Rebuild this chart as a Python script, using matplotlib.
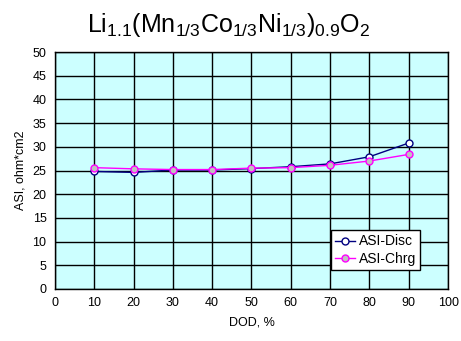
import numpy as np
import matplotlib
matplotlib.use("Agg")
from matplotlib import pyplot as plt

plt.rcParams['font.family'] = ['Liberation Sans', 'DejaVu Sans']
plt.rcParams['mathtext.fontset'] = 'custom'
plt.rcParams['mathtext.rm'] = 'Liberation Sans'
plt.rcParams['mathtext.it'] = 'Liberation Sans'

# data
dod = [10, 20, 30, 40, 50, 60, 70, 80, 90]
asi_disc = [24.8, 24.6, 25.1, 25.1, 25.4, 25.8, 26.4, 27.9, 30.8]
asi_chrg = [25.6, 25.35, 25.2, 25.2, 25.5, 25.6, 26.1, 27.0, 28.4]

fig = plt.figure(figsize=(4.61, 3.41), dpi=100)
ax = fig.add_axes((0.119, 0.1525, 0.853, 0.695))
ax.set_facecolor('#CCFFFF')

ax.plot(dod, asi_disc, color='#000080', lw=1, marker='o', ms=5,
        mfc='white', mec='#000080', mew=1, label='ASI-Disc', zorder=3)
ax.plot(dod, asi_chrg, color='#FF00FF', lw=1, marker='o', ms=5,
        mfc='#C0C0C0', mec='#FF00FF', mew=1, label='ASI-Chrg', zorder=3)

ax.set_xlim(0, 100)
ax.set_ylim(0, 50)
ax.set_xticks(np.arange(0, 101, 10))
ax.set_yticks(np.arange(0, 51, 5))
ax.grid(True, color='black', lw=1)
ax.set_axisbelow(True)
for s in ax.spines.values():
    s.set_color('black')
    s.set_linewidth(1)
ax.tick_params(labelsize=9, length=0, pad=6)

ax.set_xlabel('DOD, %', fontsize=9, labelpad=5)
ax.set_ylabel('ASI, ohm*cm2', fontsize=9)

# title with chemical subscripts
fig.text(0.496, 0.906,
         r'$\mathrm{Li_{1.1}(Mn_{1/3}Co_{1/3}Ni_{1/3})_{0.9}O_2}$',
         ha='center', va='baseline', fontsize=18)

leg = ax.legend(loc='lower right', bbox_to_anchor=(0.929, 0.08), fontsize=10,
                frameon=True, fancybox=False, handlelength=1.4,
                borderpad=0.3, labelspacing=0.25, handletextpad=0.3,
                borderaxespad=0)
leg.get_frame().set_edgecolor('black')
leg.get_frame().set_linewidth(1)
leg.get_frame().set_facecolor('white')
leg.get_frame().set_alpha(1)

fig.savefig('out.png', dpi=100)
